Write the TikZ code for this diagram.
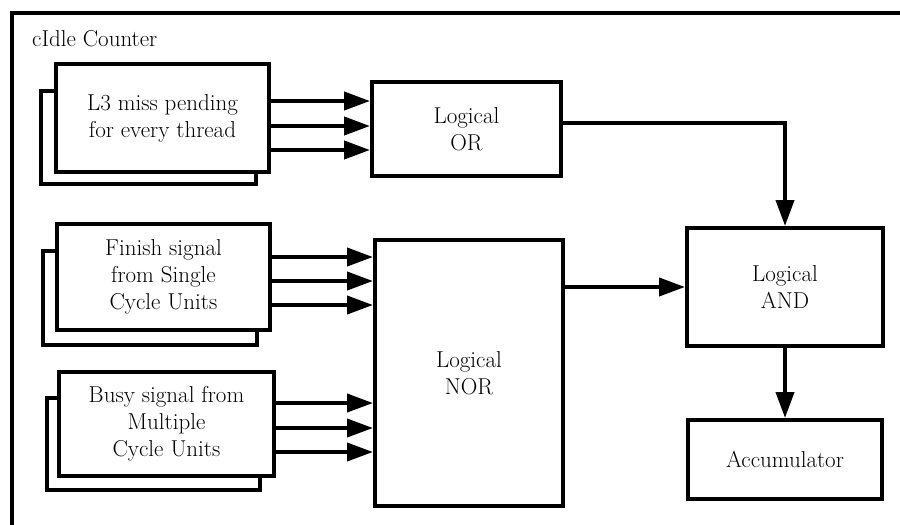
\documentclass[tikz,border=0pt]{standalone}
\usepackage{fontspec}
\usepackage{tikz}
\usetikzlibrary{arrows.meta}

\begin{document}
\begin{tikzpicture}[x=1pt,y=-1pt,
    blk/.style={draw, line width=4pt, fill=white, align=center, inner sep=0pt,
      font=\fontsize{23}{27}\selectfont},
    sig/.style={line width=4pt, -{Triangle[length=26pt,width=18pt]}}]
    \useasboundingbox (0,0) rectangle (900,525);
    \clip (0,0) rectangle (900,525);
    \draw[line width=4pt] (12,540) |- (910,13);
    \node[anchor=base west, inner sep=0pt, font=\fontsize{23}{27}\selectfont] (title) at (32,46) {cIdle Counter};

    % stacked input boxes
    \node[blk, minimum width=215, minimum height=93] (l3b) at (148.5,137.5) {};
    \node[blk, minimum width=213, minimum height=108] (l3) at (162.5,118) {L3 miss pending\\for every thread};
    \node[blk, minimum width=214, minimum height=94] (finb) at (150,298) {};
    \node[blk, minimum width=213, minimum height=106] (fin) at (163.5,277) {Finish signal\\from Single\\Cycle Units};
    \node[blk, minimum width=213, minimum height=92] (busyb) at (153.5,444) {};
    \node[blk, minimum width=215, minimum height=104] (busy) at (166.5,424) {Busy signal from\\Multiple\\Cycle Units};

    % logic
    \node[blk, minimum width=189, minimum height=94] (or) at (466.5,129) {Logical\\OR};
    \node[blk, minimum width=188, minimum height=266] (nor) at (469,373) {Logical\\NOR};
    \node[blk, minimum width=196, minimum height=118] (and) at (785,287) {Logical\\AND};
    \node[blk, minimum width=194, minimum height=79] (acc) at (785,459.5) {Accumulator};

    \foreach \dy [count=\i] in {17,-8,-32} {
        \coordinate (l3o\i) at ([yshift=\dy pt]l3.east);
        \draw[sig] (l3o\i) -- (l3o\i -| or.west);
    }
    \foreach \dy [count=\i] in {20,-4,-28} {
        \coordinate (fino\i) at ([yshift=\dy pt]fin.east);
        \draw[sig] (fino\i) -- (fino\i -| nor.west);
    }
    \foreach \dy [count=\i] in {21,-4,-28} {
        \coordinate (busyo\i) at ([yshift=\dy pt]busy.east);
        \draw[sig] (busyo\i) -- (busyo\i -| nor.west);
    }

    \draw[sig] ([yshift=6pt]or.east) -| (and.north);
    \draw[sig] (nor.east |- and.west) -- (and.west);
    \draw[sig] (and.south) -- (acc.north);
\end{tikzpicture}
\end{document}
